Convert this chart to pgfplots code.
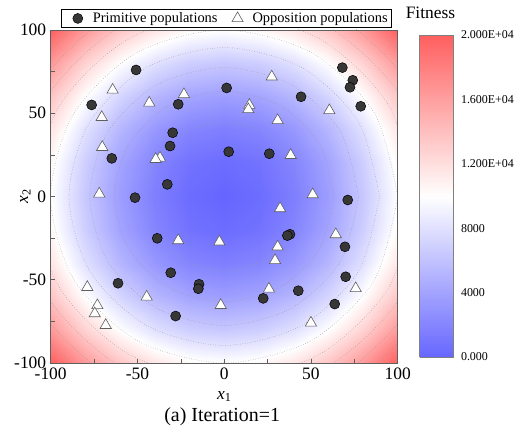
\documentclass[border=0pt]{standalone}
\usepackage{pgfplots}
\pgfplotsset{compat=1.18}
\usepackage{pgfplotstable}
\usepackage{fontspec}
\setmainfont{Liberation Serif}
\definecolor{framegray}{RGB}{95,95,95}
\definecolor{ptfill}{RGB}{55,55,55}
\definecolor{contourgray}{RGB}{150,150,150}

\pgfplotstableread{
x y z
-100 -100 20000
-80 -100 16400
-60 -100 13600
-40 -100 11600
-20 -100 10400
0 -100 10000
20 -100 10400
40 -100 11600
60 -100 13600
80 -100 16400
100 -100 20000
-100 -80 16400
-80 -80 12800
-60 -80 10000
-40 -80 8000
-20 -80 6800
0 -80 6400
20 -80 6800
40 -80 8000
60 -80 10000
80 -80 12800
100 -80 16400
-100 -60 13600
-80 -60 10000
-60 -60 7200
-40 -60 5200
-20 -60 4000
0 -60 3600
20 -60 4000
40 -60 5200
60 -60 7200
80 -60 10000
100 -60 13600
-100 -40 11600
-80 -40 8000
-60 -40 5200
-40 -40 3200
-20 -40 2000
0 -40 1600
20 -40 2000
40 -40 3200
60 -40 5200
80 -40 8000
100 -40 11600
-100 -20 10400
-80 -20 6800
-60 -20 4000
-40 -20 2000
-20 -20 800
0 -20 400
20 -20 800
40 -20 2000
60 -20 4000
80 -20 6800
100 -20 10400
-100 0 10000
-80 0 6400
-60 0 3600
-40 0 1600
-20 0 400
0 0 0
20 0 400
40 0 1600
60 0 3600
80 0 6400
100 0 10000
-100 20 10400
-80 20 6800
-60 20 4000
-40 20 2000
-20 20 800
0 20 400
20 20 800
40 20 2000
60 20 4000
80 20 6800
100 20 10400
-100 40 11600
-80 40 8000
-60 40 5200
-40 40 3200
-20 40 2000
0 40 1600
20 40 2000
40 40 3200
60 40 5200
80 40 8000
100 40 11600
-100 60 13600
-80 60 10000
-60 60 7200
-40 60 5200
-20 60 4000
0 60 3600
20 60 4000
40 60 5200
60 60 7200
80 60 10000
100 60 13600
-100 80 16400
-80 80 12800
-60 80 10000
-40 80 8000
-20 80 6800
0 80 6400
20 80 6800
40 80 8000
60 80 10000
80 80 12800
100 80 16400
-100 100 20000
-80 100 16400
-60 100 13600
-40 100 11600
-20 100 10400
0 100 10000
20 100 10400
40 100 11600
60 100 13600
80 100 16400
100 100 20000
}\fitnessgrid

\pgfplotstableread{
x y
-50.8 76.0
-76.4 55.0
-26.5 55.4
-29.7 38.3
-31.2 30.3
-64.8 22.9
-32.8 7.3
-51.4 -0.7
68.1 77.4
74.1 69.8
72.5 65.6
78.7 54.2
1.4 65.2
44.3 59.9
2.6 26.9
26.0 25.7
71.2 -2.1
37.9 -22.7
36.4 -23.5
69.6 -30.2
70.0 -48.2
42.7 -56.6
22.5 -61.2
63.7 -64.6
-38.6 -25.1
-30.8 -45.8
-61.2 -52.1
-14.5 -52.7
-14.9 -55.4
-28.0 -71.8
}\primitive

\pgfplotstableread{
x y
-64.3 64.0
-43.2 56.2
-23.2 61.3
-70.6 47.6
-70.3 29.6
-37.0 23.2
-39.5 22.4
-72.0 1.6
27.4 71.9
14.5 54.9
13.9 52.3
60.6 51.7
30.8 45.7
38.3 24.8
51.0 1.2
32.2 -7.2
-2.8 -27.2
64.3 -22.8
30.8 -30.2
29.3 -38.4
25.8 -55.5
75.8 -55.2
-2.0 -65.3
50.0 -75.9
-26.5 -26.4
-78.9 -54.5
-73.1 -65.4
-74.6 -70.3
-68.3 -77.3
-44.7 -60.3
}\opposition

\begin{document}
\begin{tikzpicture}
\useasboundingbox (-50.7bp,-65bp) rectangle (480.3bp,363bp);
\begin{axis}[
  at={(0,0)}, anchor=south west,
  scale only axis, width=347bp, height=333bp,
  xmin=-100, xmax=100, ymin=-100, ymax=100,
  enlargelimits=false,
  axis on top,
  xtick={-100,-50,0,50,100}, ytick={-100,-50,0,50,100},
  xticklabels={-100,-50,0,50,100}, yticklabels={-100,-50,0,50,100},
  minor xtick={-75,-25,25,75}, minor ytick={-75,-25,25,75},
  tick align=inside, tick pos=left,
  major tick length=4bp, minor tick length=4bp,
  axis line style={framegray, line width=0.8pt},
  every tick/.style={framegray, line width=0.6pt},
  ticklabel style={font=\fontsize{17.5}{17.5}\selectfont},
  xticklabel style={yshift=-1bp},
  yticklabel style={xshift=-1bp},
  /pgf/number format/assume math mode=true,
  xlabel={\textit{x}\textsubscript{1}},
  ylabel={\textit{x}\textsubscript{2}},
  xlabel style={font=\fontsize{17.5}{17.5}\selectfont, at={(axis description cs:0.5,0)}, anchor=base, yshift=-36bp},
  ylabel style={font=\fontsize{17.5}{17.5}\selectfont, at={(axis description cs:-0.0654,0.5)}, anchor=base},
  colormap={bwr}{rgb255=(102,102,255) rgb255=(255,255,255) rgb255=(255,95,95)},
  point meta min=0, point meta max=20000,
  colorbar sampled,
  colorbar style={
    at={(parent axis.north east)}, anchor=north west,
    xshift=13.3bp, yshift=-5bp,
    scale only axis, width=34bp, height=322bp,
    samples=161,
    enlargelimits=false,
    ytick={0,4000,8000,12000,16000,20000},
    yticklabels={0.000,4000,8000,1.200E+04,1.600E+04,2.000E+04},
    scaled y ticks=false,
    yticklabel style={font=\fontsize{12}{12}\selectfont, xshift=4bp},
    major tick length=0pt,
    axis line style={gray, line width=0.6pt},
    title={Fitness},
    title style={font=\fontsize{17.5}{17.5}\selectfont, at={(0.5,1)}, anchor=base, yshift=11bp, xshift=-6bp},
  },
  legend columns=2,
  legend style={
    at={(axis description cs:0,1)}, anchor=south west,
    xshift=10.3bp, yshift=2bp,
    draw=black, line width=0.6pt, inner sep=1.5bp,
    font=\fontsize{14.5}{14.5}\selectfont,
    /tikz/every even column/.append style={column sep=3bp},
  },
  legend image code/.code={
    \path[draw=none, fill=none] (0bp,-5bp) rectangle (28bp,5bp);
    \draw[#1] plot coordinates {(15bp,0bp)};
  },
]
\addplot[surf, shader=interp, mesh/cols=11, point meta=explicit, forget plot]
  table[x=x, y=y, meta=z] {\fitnessgrid};

\addplot[smooth, dotted, contourgray, line width=0.5pt, forget plot] coordinates {
(44.72,0) (38.73,22.36) (22.36,38.73) (0,44.72) (-22.36,38.73) (-38.73,22.36) (-44.72,0) (-38.73,-22.36) (-22.36,-38.73) (0,-44.72) (22.36,-38.73) (38.73,-22.36) (44.72,0)};
\addplot[smooth, dotted, contourgray, line width=0.5pt, forget plot] coordinates {
(63.25,0) (54.77,31.62) (31.62,54.77) (0,63.25) (-31.62,54.77) (-54.77,31.62) (-63.25,0) (-54.77,-31.62) (-31.62,-54.77) (0,-63.25) (31.62,-54.77) (54.77,-31.62) (63.25,0)};
\addplot[smooth, dotted, contourgray, line width=0.5pt, forget plot] coordinates {
(77.46,0) (67.08,38.73) (38.73,67.08) (0,77.46) (-38.73,67.08) (-67.08,38.73) (-77.46,0) (-67.08,-38.73) (-38.73,-67.08) (0,-77.46) (38.73,-67.08) (67.08,-38.73) (77.46,0)};
\addplot[smooth, dotted, contourgray, line width=0.5pt, forget plot] coordinates {
(89.44,0) (77.46,44.72) (44.72,77.46) (0,89.44) (-44.72,77.46) (-77.46,44.72) (-89.44,0) (-77.46,-44.72) (-44.72,-77.46) (0,-89.44) (44.72,-77.46) (77.46,-44.72) (89.44,0)};
\addplot[smooth, dotted, contourgray, line width=0.5pt, forget plot] coordinates {
(100,0) (86.60,50) (50,86.60) (0,100) (-50,86.60) (-86.60,50) (-100,0) (-86.60,-50) (-50,-86.60) (0,-100) (50,-86.60) (86.60,-50) (100,0)};
\addplot[smooth, dotted, contourgray, line width=0.5pt, forget plot] coordinates {
(109.54,0) (94.87,54.77) (54.77,94.87) (0,109.54) (-54.77,94.87) (-94.87,54.77) (-109.54,0) (-94.87,-54.77) (-54.77,-94.87) (0,-109.54) (54.77,-94.87) (94.87,-54.77) (109.54,0)};
\addplot[smooth, dotted, contourgray, line width=0.5pt, forget plot] coordinates {
(118.32,0) (102.47,59.16) (59.16,102.47) (0,118.32) (-59.16,102.47) (-102.47,59.16) (-118.32,0) (-102.47,-59.16) (-59.16,-102.47) (0,-118.32) (59.16,-102.47) (102.47,-59.16) (118.32,0)};
\addplot[smooth, dotted, contourgray, line width=0.5pt, forget plot] coordinates {
(126.49,0) (109.54,63.25) (63.25,109.54) (0,126.49) (-63.25,109.54) (-109.54,63.25) (-126.49,0) (-109.54,-63.25) (-63.25,-109.54) (0,-126.49) (63.25,-109.54) (109.54,-63.25) (126.49,0)};
\addplot[smooth, dotted, contourgray, line width=0.5pt, forget plot] coordinates {
(134.16,0) (116.19,67.08) (67.08,116.19) (0,134.16) (-67.08,116.19) (-116.19,67.08) (-134.16,0) (-116.19,-67.08) (-67.08,-116.19) (0,-134.16) (67.08,-116.19) (116.19,-67.08) (134.16,0)};

\addplot[only marks, mark=*, mark size=5bp, mark options={fill=ptfill, draw=black, line width=0.5pt}]
  table[x=x, y=y] {\primitive};
\addlegendentry{Primitive populations}
\addplot[only marks, mark=triangle*, mark size=6.5bp, mark options={fill=white, draw=framegray, line width=0.6pt}]
  table[x=x, y=y] {\opposition};
\addlegendentry{Opposition populations}
\end{axis}
\node[font=\fontsize{20}{20}\selectfont, anchor=base] at (171.5bp,-58bp) {(a) Iteration=1};
\end{tikzpicture}
\end{document}
